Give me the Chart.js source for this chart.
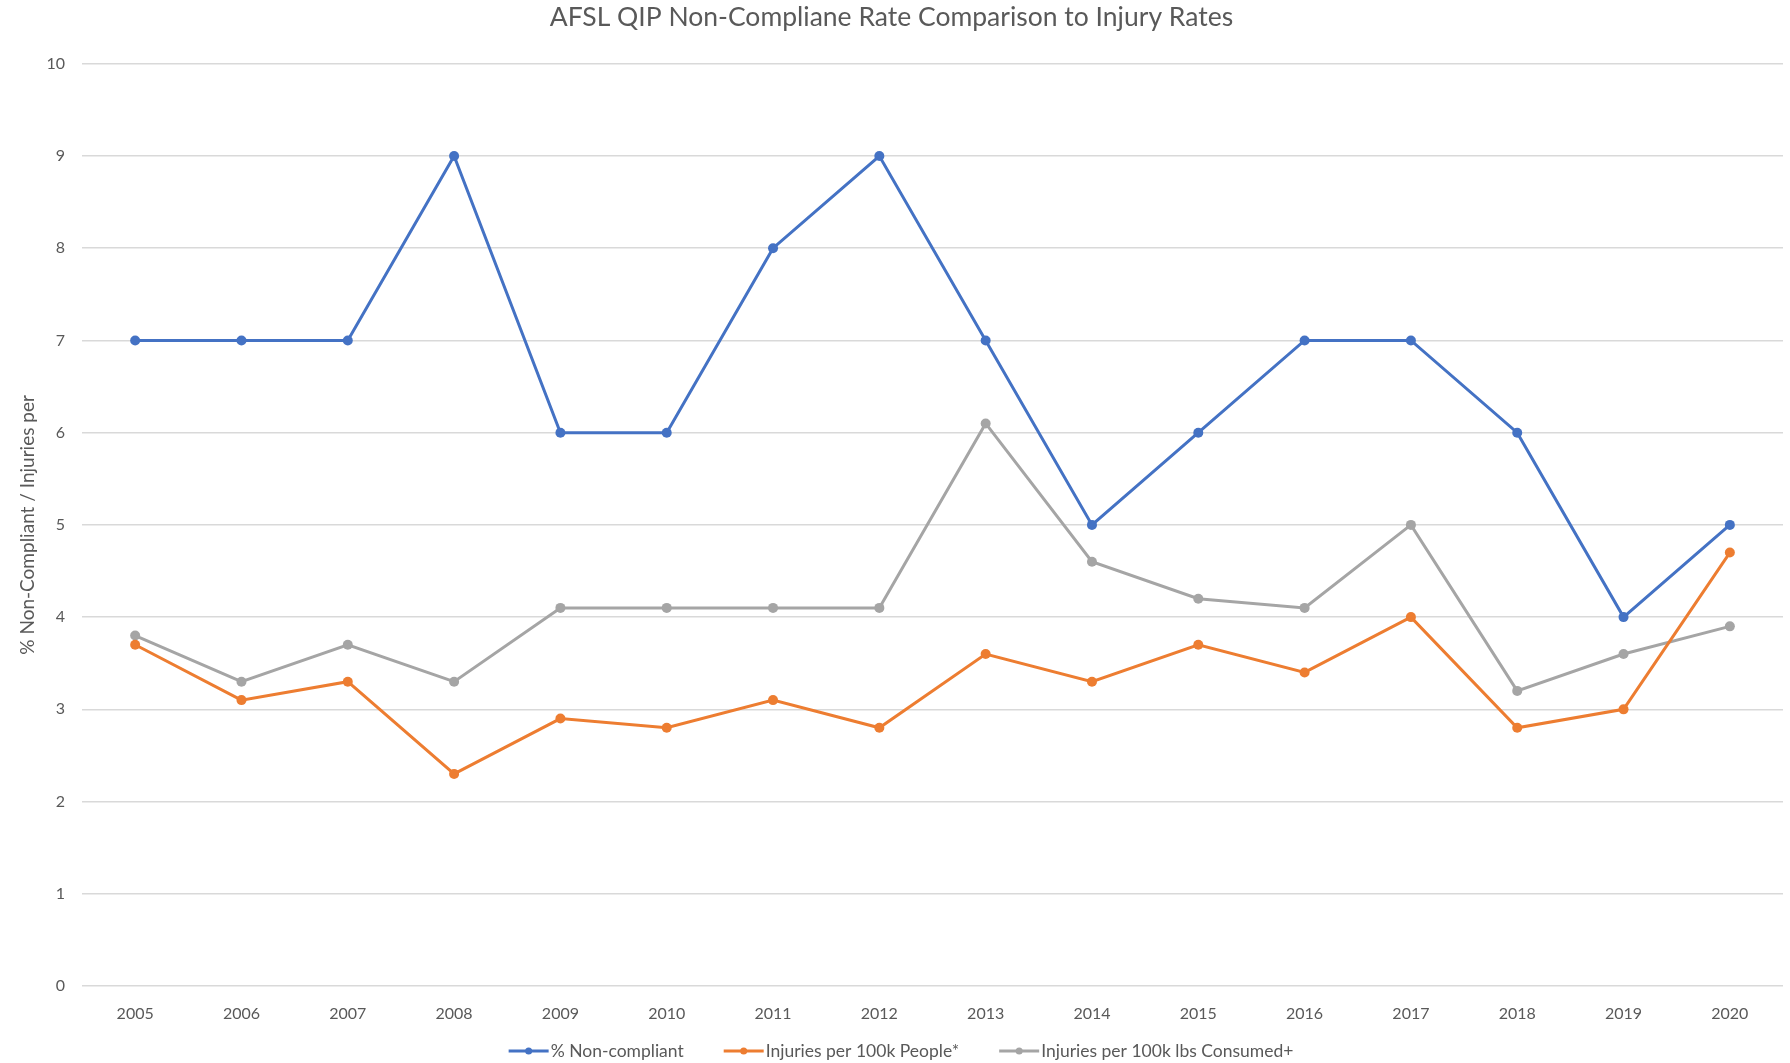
<!DOCTYPE html>
<html>
<head>
<meta charset="utf-8">
<title>AFSL QIP Non-Compliane Rate Comparison to Injury Rates</title>
<script src="https://cdn.jsdelivr.net/npm/chart.js@4.4.1/dist/chart.umd.min.js"></script>
<style>
  html, body { margin: 0; padding: 0; background: #ffffff; }
  #chart { display: block; }
</style>
</head>
<body>
<canvas id="chart" width="1790" height="1063"></canvas>
<script>
// Data
const years = ['2005', '2006', '2007', '2008', '2009', '2010', '2011', '2012',
    '2013', '2014', '2015', '2016', '2017', '2018', '2019', '2020'];
const nonCompliant = [7, 7, 7, 9, 6, 6, 8, 9, 7, 5, 6, 7, 7, 6, 4, 5];
const injuriesPeople = [3.7, 3.1, 3.3, 2.3, 2.9, 2.8, 3.1, 2.8, 3.6, 3.3, 3.7, 3.4, 4.0, 2.8, 3.0, 4.7];
const injuriesLbs = [3.8, 3.3, 3.7, 3.3, 4.1, 4.1, 4.1, 4.1, 6.1, 4.6, 4.2, 4.1, 5.0, 3.2, 3.6, 3.9];
const yTicks = [0, 1, 2, 3, 4, 5, 6, 7, 8, 9, 10];

const FONT = "Lato, 'Open Sans', sans-serif";
const TEXT = '#595959';

function series(label, data, color) {
    return {
        label: label,
        data: data,
        borderColor: color,
        backgroundColor: color,
        borderWidth: 3,
        pointRadius: 5,
        pointBorderWidth: 0,
        pointBackgroundColor: color,
        tension: 0,
        fill: false
    };
}

// Excel-style legend at the bottom: short line with a dot, then the label
const bottomLegend = {
    id: 'bottomLegend',
    afterDraw(chart) {
        const ctx = chart.ctx;
        const lineLen = 40, textGap = 2, itemGap = 40, y = 1051;
        ctx.save();
        ctx.font = '17.5px ' + FONT;
        ctx.textBaseline = 'middle';
        const items = chart.data.datasets.map(ds => ({
            ds: ds,
            w: lineLen + textGap + ctx.measureText(ds.label).width
        }));
        const total = items.reduce((s, it) => s + it.w, 0) + itemGap * (items.length - 1);
        let x = chart.width / 2 + 6 - total / 2;
        items.forEach(it => {
            const color = it.ds.borderColor;
            ctx.strokeStyle = color;
            ctx.lineWidth = 3;
            ctx.beginPath();
            ctx.moveTo(x, y);
            ctx.lineTo(x + lineLen, y);
            ctx.stroke();
            ctx.fillStyle = color;
            ctx.beginPath();
            ctx.arc(x + lineLen / 2, y, 3.5, 0, Math.PI * 2);
            ctx.fill();
            ctx.fillStyle = TEXT;
            ctx.textAlign = 'left';
            ctx.fillText(it.ds.label, x + lineLen + textGap, y);
            x += it.w + itemGap;
        });
        ctx.restore();
    }
};

const chart = new Chart(document.getElementById('chart'), {
    type: 'line',
    data: {
        labels: years,
        datasets: [
            series('% Non-compliant', nonCompliant, '#4472C4'),
            series('Injuries per 100k People*', injuriesPeople, '#ED7D31'),
            series('Injuries per 100k lbs Consumed+', injuriesLbs, '#A5A5A5')
        ]
    },
    options: {
        responsive: false,
        animation: false,
        layout: {
            padding: { left: 0, right: 7, top: 0, bottom: 32 }
        },
        plugins: {
            title: {
                display: true,
                text: 'AFSL QIP Non-Compliane Rate Comparison to Injury Rates',
                color: TEXT,
                font: { family: FONT, size: 26.5, weight: 'normal' },
                padding: { top: 2, bottom: 30 }
            },
            legend: { display: false },
            tooltip: { enabled: false }
        },
        scales: {
            x: {
                offset: true,
                grid: { display: false, drawTicks: false },
                border: { display: false },
                ticks: {
                    color: TEXT,
                    font: { family: FONT, size: 16 },
                    padding: 18,
                    maxRotation: 0
                },
                afterFit: function(scale) { scale.height = 45; }
            },
            y: {
                min: 0,
                max: 10,
                afterBuildTicks: function(scale) {
                    scale.ticks = yTicks.map(v => ({ value: v }));
                },
                grid: { color: '#d9d9d9', lineWidth: 1.5, drawTicks: false },
                border: { display: false },
                ticks: {
                    color: TEXT,
                    font: { family: FONT, size: 16 },
                    padding: 17
                },
                title: {
                    display: true,
                    text: '% Non-Compliant / Injuries per',
                    color: TEXT,
                    font: { family: FONT, size: 19 },
                    padding: { top: 16, bottom: 0 }
                },
                afterFit: function(scale) { scale.width = 82; }
            }
        }
    },
    plugins: [bottomLegend]
});
</script>
</body>
</html>
